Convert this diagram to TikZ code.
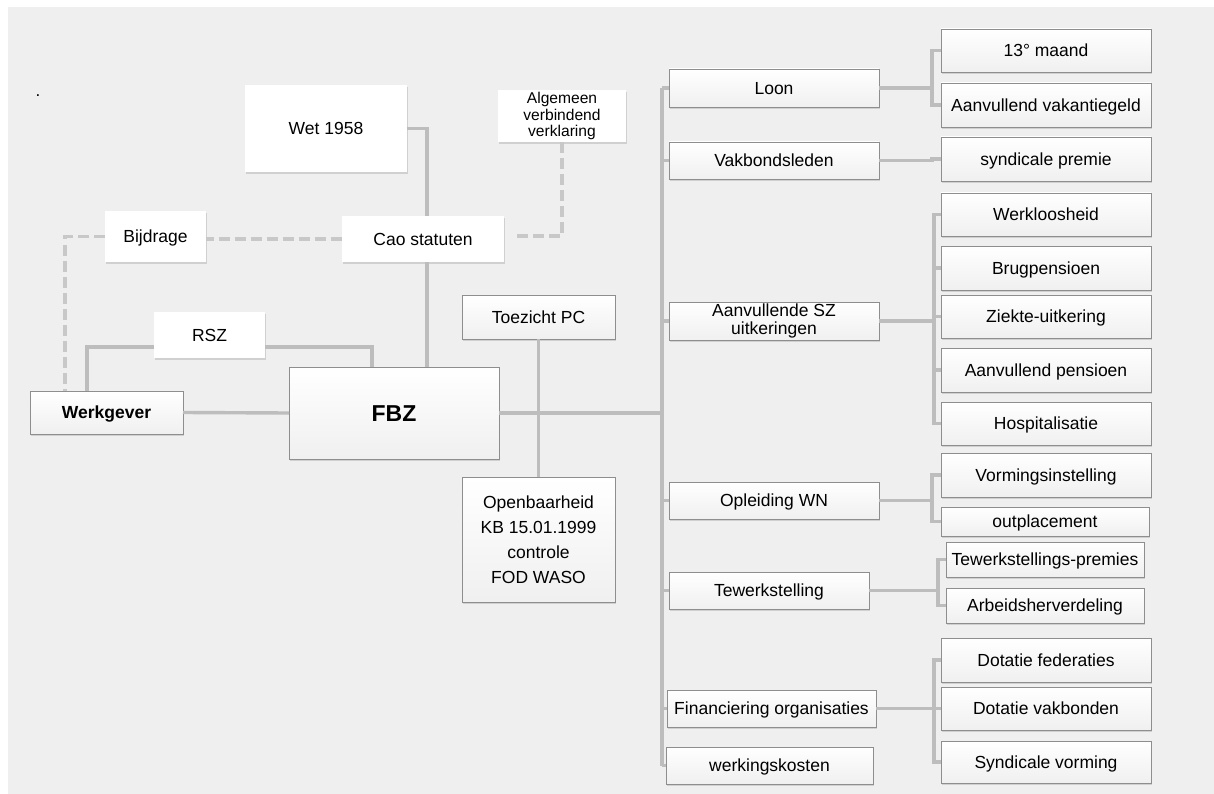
\documentclass[tikz,border=0pt]{standalone}
\usepackage{fontspec}
\setmainfont{Liberation Sans}
\usetikzlibrary{shadows}
\definecolor{bgc}{HTML}{EFEFEF}
\definecolor{linec}{HTML}{BDBDBD}
\definecolor{dashc}{HTML}{C8C8C8}
\definecolor{boxborder}{HTML}{8E8E8E}
\tikzset{
  base/.style={inner sep=0pt, outer sep=0pt, align=center,
    font=\fontsize{17.5}{20}\selectfont, text height=12.6pt, text depth=0pt,
    drop shadow={shadow xshift=0.8pt, shadow yshift=-2.4pt, opacity=0.28}},
  multi/.style={text height=, text depth=},
  plainbox/.style={base, fill=white},
  gbox/.style={base, draw=boxborder, line width=0.8pt,
    top color=white, middle color=white, bottom color=black!6},
  conn/.style={draw=linec, line width=3.4pt},
  dconn/.style={draw=dashc, line width=3.8pt, dash pattern=on 11pt off 5pt},
}
\begin{document}
\begin{tikzpicture}[x=1pt, y=-1pt]
\useasboundingbox (0,0) rectangle (1214,794);
\fill[bgc] (8,7) rectangle (1214,794);

\node[font=\fontsize{17}{20}\selectfont, inner sep=0pt] (dot) at (38,96) {.};

% left part
\node[plainbox, minimum width=162pt, minimum height=87pt] (wet) at (326,128.5) {Wet 1958};
\node[plainbox, multi, minimum width=128pt, minimum height=52pt, font=\fontsize{15.6}{16.7}\selectfont] (alg) at (562,116) {Algemeen\\verbindend\\verklaring};
\node[plainbox, minimum width=162pt, minimum height=46pt] (cao) at (423,239) {Cao statuten};
\node[plainbox, minimum width=101pt, minimum height=51pt] (bij) at (155.5,236.5) {Bijdrage};
\node[plainbox, minimum width=111pt, minimum height=46pt] (rsz) at (209.5,335) {RSZ};
\node[gbox, minimum width=153pt, minimum height=43pt, font=\fontsize{17.5}{20}\selectfont\bfseries] (werk) at (106.5,412.5) {Werkgever};
\node[gbox, minimum width=210pt, minimum height=92pt, font=\fontsize{23}{26}\selectfont\bfseries, text height=16.5pt] (fbz) at (394,413) {FBZ};
\node[gbox, minimum width=153pt, minimum height=44pt] (toe) at (538.5,317) {Toezicht PC};
\node[gbox, multi, minimum width=153pt, minimum height=125pt, font=\fontsize{17.5}{25}\selectfont] (open) at (538.5,539.5) {Openbaarheid\\KB 15.01.1999\\controle\\FOD WASO};

% middle column
\node[gbox, minimum width=210pt, minimum height=38pt] (loon) at (774,88) {Loon};
\node[gbox, minimum width=210pt, minimum height=37pt] (vak) at (774,160.5) {Vakbondsleden};
\node[gbox, multi, minimum width=210pt, minimum height=38pt, font=\fontsize{17.5}{18}\selectfont] (asz) at (774,321) {Aanvullende SZ\\uitkeringen};
\node[gbox, minimum width=210pt, minimum height=37pt] (opl) at (774,500.5) {Opleiding WN};
\node[gbox, minimum width=200pt, minimum height=37pt] (tew) at (769,590.5) {Tewerkstelling};
\node[gbox, minimum width=209pt, minimum height=37pt] (fin) at (771.5,708.5) {Financiering organisaties};
\node[gbox, minimum width=207pt, minimum height=37pt] (wk) at (769.5,765.5) {werkingskosten};

% right column
\node[gbox, minimum width=210pt, minimum height=43pt] (m13) at (1046,50.5) {13° maand};
\node[gbox, minimum width=210pt, minimum height=44pt] (avg) at (1046,105) {Aanvullend vakantiegeld};
\node[gbox, minimum width=210pt, minimum height=44pt] (syn) at (1046,159) {syndicale premie};
\node[gbox, minimum width=210pt, minimum height=43pt] (wl) at (1046,214.5) {Werkloosheid};
\node[gbox, minimum width=210pt, minimum height=44pt] (brug) at (1046,268) {Brugpensioen};
\node[gbox, minimum width=210pt, minimum height=43pt] (ziek) at (1046,316.5) {Ziekte-uitkering};
\node[gbox, minimum width=210pt, minimum height=44pt] (apen) at (1046,370) {Aanvullend pensioen};
\node[gbox, minimum width=210pt, minimum height=43pt] (hosp) at (1046,423.5) {Hospitalisatie};
\node[gbox, minimum width=210pt, minimum height=44pt] (vorm) at (1046,475) {Vormingsinstelling};
\node[gbox, minimum width=208pt, minimum height=29pt] (outp) at (1045,521.5) {outplacement};
\node[gbox, minimum width=198pt, minimum height=35pt] (tprem) at (1045,559.5) {Tewerkstellings-premies};
\node[gbox, minimum width=198pt, minimum height=35pt] (arb) at (1045,605.5) {Arbeidsherverdeling};
\node[gbox, minimum width=210pt, minimum height=44pt] (dfed) at (1046,660) {Dotatie federaties};
\node[gbox, minimum width=210pt, minimum height=43pt] (dvak) at (1046,708.5) {Dotatie vakbonden};
\node[gbox, minimum width=210pt, minimum height=42pt] (svorm) at (1046,762) {Syndicale vorming};

\coordinate (trunk) at (662,88);

% connectors left
\draw[conn] (wet.east) -| ([xshift=4pt]cao.north);
\draw[conn] ([xshift=4pt]cao.south) -- ([xshift=4pt]cao.south |- fbz.north);
\draw[dconn] (alg.south) |- ([xshift=11pt, yshift=3pt]cao.east);
\draw[dconn] (cao.west) -- (cao.west -| bij.east);
\draw[dconn] (bij.west) -| ([xshift=-41.5pt]werk.north);
\draw[conn] ([xshift=-19.5pt]werk.north) |- ([yshift=-12pt]rsz.west);
\draw[conn] ([yshift=-12pt]rsz.east) -| ([xshift=-22pt]fbz.north);
\draw[conn] (werk.east) -- (fbz.west);
\draw[conn] (toe.south) -- (open.north);
\draw[conn] (fbz.east) -- (fbz.east -| trunk);

% trunk
\draw[conn] (trunk) -- (trunk |- wk.west);
\foreach \n in {loon,vak,asz,opl,tew,fin,wk}{
  \draw[conn] (\n.west) -- (\n.west -| trunk);
}

% brackets
\draw[conn] (loon.east) -- ([xshift=-9pt]loon.east -| m13.west) |- (m13.west);
\draw[conn] ([xshift=-9pt]loon.east -| m13.west) |- (avg.west);
\draw[conn] (vak.east) -- ([xshift=-9pt]vak.east -| syn.west) |- (syn.west);
\draw[conn] (asz.east) -- ([xshift=-7pt]asz.east -| wl.west);
\foreach \n in {wl,brug,ziek,apen,hosp}{
  \draw[conn] ([xshift=-7pt]asz.east -| wl.west) |- (\n.west);
}
\draw[conn] (opl.east) -- ([xshift=-9pt]opl.east -| vorm.west) |- (vorm.west);
\draw[conn] ([xshift=-9pt]opl.east -| vorm.west) |- (outp.west);
\draw[conn] (tew.east) -- ([xshift=-8pt]tew.east -| tprem.west) |- (tprem.west);
\draw[conn] ([xshift=-8pt]tew.east -| tprem.west) |- (arb.west);
\draw[conn] (fin.east) -- ([xshift=-7pt]fin.east -| dfed.west);
\foreach \n in {dfed,dvak,svorm}{
  \draw[conn] ([xshift=-7pt]fin.east -| dfed.west) |- (\n.west);
}
\end{tikzpicture}
\end{document}
